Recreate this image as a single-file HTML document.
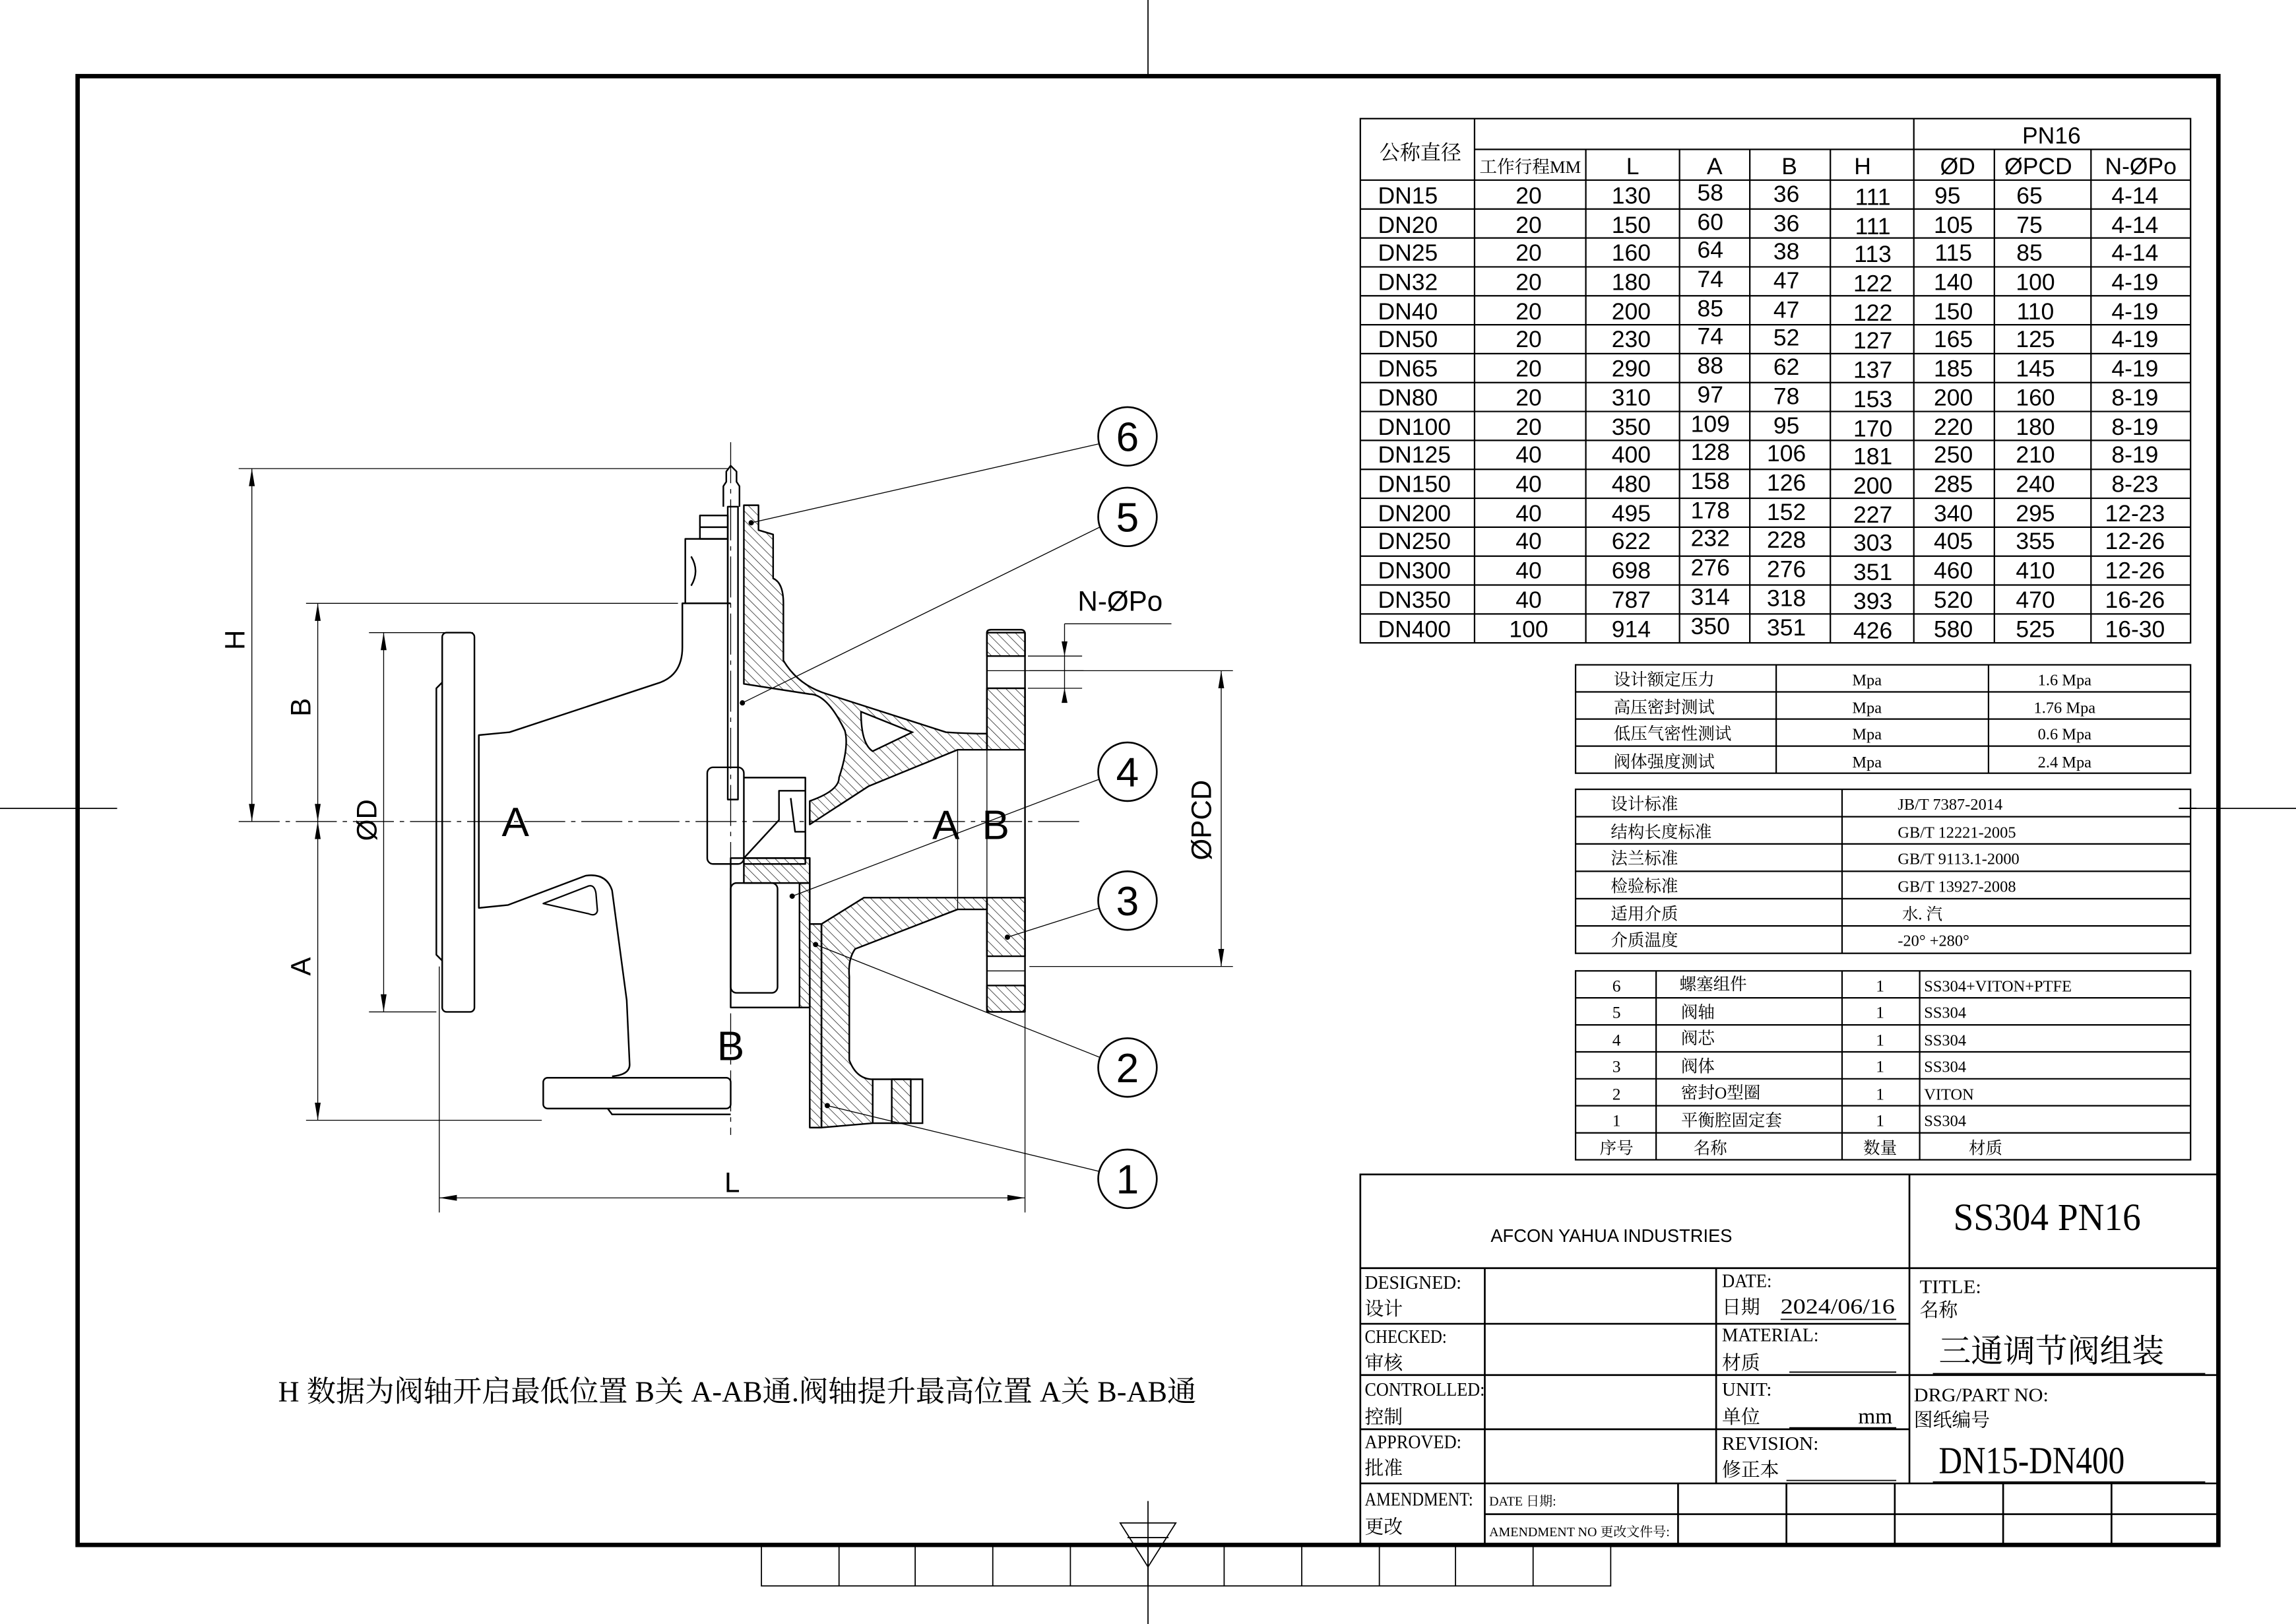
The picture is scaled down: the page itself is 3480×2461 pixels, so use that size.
<!DOCTYPE html>
<html><head><meta charset="utf-8"><style>
html,body{margin:0;padding:0;background:#fff}
svg{display:block}
.s{font-family:"Liberation Sans Narrow","Liberation Sans","Noto Sans CJK SC",sans-serif}
.r{font-family:"Liberation Serif","Noto Serif CJK SC",serif}
.c{font-family:"Liberation Serif","Noto Serif CJK SC","Noto Sans CJK SC",serif}
</style></head><body>
<svg width="3480" height="2461" viewBox="0 0 1568 1109" preserveAspectRatio="none" xmlns="http://www.w3.org/2000/svg">
<defs>
<pattern id="h" patternUnits="userSpaceOnUse" width="4.5" height="4.5" patternTransform="rotate(-45)">
<line x1="0" y1="0" x2="0" y2="4.5" stroke="#000" stroke-width="0.6"/>
</pattern>
</defs>
<rect width="1568" height="1109" fill="#fff"/>
<g stroke="#000" stroke-width="0.8" fill="none">
<line x1="784" y1="0" x2="784" y2="52"/>
<line x1="0" y1="552" x2="80" y2="552"/>
<line x1="1488" y1="552" x2="1568" y2="552"/>
<line x1="784" y1="1025" x2="784" y2="1109"/>
<path d="M765 1040 L803 1040 L784 1070 Z"/>
<line x1="770" y1="1050" x2="798" y2="1050"/>
<rect x="520" y="1055" width="580" height="28"/>
<line x1="573" y1="1055" x2="573" y2="1083"/><line x1="625" y1="1055" x2="625" y2="1083"/>
<line x1="678" y1="1055" x2="678" y2="1083"/><line x1="731" y1="1055" x2="731" y2="1083"/>
<line x1="784" y1="1055" x2="784" y2="1083"/><line x1="836" y1="1055" x2="836" y2="1083"/>
<line x1="889" y1="1055" x2="889" y2="1083"/><line x1="942" y1="1055" x2="942" y2="1083"/>
<line x1="994" y1="1055" x2="994" y2="1083"/><line x1="1047" y1="1055" x2="1047" y2="1083"/>
</g>
<rect x="53" y="52" width="1462" height="1003" fill="none" stroke="#000" stroke-width="3"/>

<g stroke="#000" stroke-width="1" fill="none">
<rect x="929" y="81" width="567" height="358"/>
<line x1="1007" y1="102" x2="1496" y2="102"/>
<line x1="929" y1="123" x2="1496" y2="123"/>
<line x1="929" y1="142.75" x2="1496" y2="142.75"/><line x1="929" y1="162.5" x2="1496" y2="162.5"/>
<line x1="929" y1="182.25" x2="1496" y2="182.25"/><line x1="929" y1="202" x2="1496" y2="202"/>
<line x1="929" y1="221.75" x2="1496" y2="221.75"/><line x1="929" y1="241.5" x2="1496" y2="241.5"/>
<line x1="929" y1="261.25" x2="1496" y2="261.25"/><line x1="929" y1="281" x2="1496" y2="281"/>
<line x1="929" y1="300.75" x2="1496" y2="300.75"/><line x1="929" y1="320.5" x2="1496" y2="320.5"/>
<line x1="929" y1="340.25" x2="1496" y2="340.25"/><line x1="929" y1="360" x2="1496" y2="360"/>
<line x1="929" y1="379.75" x2="1496" y2="379.75"/><line x1="929" y1="399.5" x2="1496" y2="399.5"/>
<line x1="929" y1="419.25" x2="1496" y2="419.25"/>
<line x1="1007" y1="81" x2="1007" y2="439"/>
<line x1="1083" y1="102" x2="1083" y2="439"/>
<line x1="1147" y1="102" x2="1147" y2="439"/>
<line x1="1195" y1="102" x2="1195" y2="439"/>
<line x1="1250" y1="102" x2="1250" y2="439"/>
<line x1="1307" y1="81" x2="1307" y2="439"/>
<line x1="1362" y1="102" x2="1362" y2="439"/>
<line x1="1428" y1="102" x2="1428" y2="439"/>
</g>
<g class="s" font-size="16" fill="#000" text-anchor="middle">
<text x="1401" y="98">PN16</text>
<text x="970" y="109" font-size="14" class="c">公称直径</text>
<text x="1045" y="118" font-size="12" class="c">工作行程MM</text>
<text x="1115" y="119">L</text><text x="1171" y="119">A</text><text x="1222" y="119">B</text><text x="1272" y="119">H</text>
<text x="1337" y="119">ØD</text><text x="1392" y="119">ØPCD</text><text x="1462" y="119">N-ØPo</text>
</g>
<g class="s" font-size="16" fill="#000" text-anchor="middle">
<g text-anchor="start">
<text x="941" y="139">DN15</text><text x="941" y="159">DN20</text><text x="941" y="178">DN25</text><text x="941" y="198">DN32</text>
<text x="941" y="218">DN40</text><text x="941" y="237">DN50</text><text x="941" y="257">DN65</text><text x="941" y="277">DN80</text>
<text x="941" y="297">DN100</text><text x="941" y="316">DN125</text><text x="941" y="336">DN150</text><text x="941" y="356">DN200</text>
<text x="941" y="375">DN250</text><text x="941" y="395">DN300</text><text x="941" y="415">DN350</text><text x="941" y="435">DN400</text>
</g>
<text x="1044" y="139">20</text><text x="1044" y="159">20</text><text x="1044" y="178">20</text><text x="1044" y="198">20</text>
<text x="1044" y="218">20</text><text x="1044" y="237">20</text><text x="1044" y="257">20</text><text x="1044" y="277">20</text>
<text x="1044" y="297">20</text><text x="1044" y="316">40</text><text x="1044" y="336">40</text><text x="1044" y="356">40</text>
<text x="1044" y="375">40</text><text x="1044" y="395">40</text><text x="1044" y="415">40</text><text x="1044" y="435">100</text>

<text x="1114" y="139">130</text><text x="1114" y="159">150</text><text x="1114" y="178">160</text><text x="1114" y="198">180</text>
<text x="1114" y="218">200</text><text x="1114" y="237">230</text><text x="1114" y="257">290</text><text x="1114" y="277">310</text>
<text x="1114" y="297">350</text><text x="1114" y="316">400</text><text x="1114" y="336">480</text><text x="1114" y="356">495</text>
<text x="1114" y="375">622</text><text x="1114" y="395">698</text><text x="1114" y="415">787</text><text x="1114" y="435">914</text>

<text x="1168" y="137">58</text><text x="1168" y="157">60</text><text x="1168" y="176">64</text><text x="1168" y="196">74</text>
<text x="1168" y="216">85</text><text x="1168" y="235">74</text><text x="1168" y="255">88</text><text x="1168" y="275">97</text>
<text x="1168" y="295">109</text><text x="1168" y="314">128</text><text x="1168" y="334">158</text><text x="1168" y="354">178</text>
<text x="1168" y="373">232</text><text x="1168" y="393">276</text><text x="1168" y="413">314</text><text x="1168" y="433">350</text>

<text x="1220" y="138">36</text><text x="1220" y="158">36</text><text x="1220" y="177">38</text><text x="1220" y="197">47</text>
<text x="1220" y="217">47</text><text x="1220" y="236">52</text><text x="1220" y="256">62</text><text x="1220" y="276">78</text>
<text x="1220" y="296">95</text><text x="1220" y="315">106</text><text x="1220" y="335">126</text><text x="1220" y="355">152</text>
<text x="1220" y="374">228</text><text x="1220" y="394">276</text><text x="1220" y="414">318</text><text x="1220" y="434">351</text>

<text x="1279" y="140">111</text><text x="1279" y="160">111</text><text x="1279" y="179">113</text><text x="1279" y="199">122</text>
<text x="1279" y="219">122</text><text x="1279" y="238">127</text><text x="1279" y="258">137</text><text x="1279" y="278">153</text>
<text x="1279" y="298">170</text><text x="1279" y="317">181</text><text x="1279" y="337">200</text><text x="1279" y="357">227</text>
<text x="1279" y="376">303</text><text x="1279" y="396">351</text><text x="1279" y="416">393</text><text x="1279" y="436">426</text>

<text x="1330" y="139">95</text><text x="1334" y="159">105</text><text x="1334" y="178">115</text><text x="1334" y="198">140</text>
<text x="1334" y="218">150</text><text x="1334" y="237">165</text><text x="1334" y="257">185</text><text x="1334" y="277">200</text>
<text x="1334" y="297">220</text><text x="1334" y="316">250</text><text x="1334" y="336">285</text><text x="1334" y="356">340</text>
<text x="1334" y="375">405</text><text x="1334" y="395">460</text><text x="1334" y="415">520</text><text x="1334" y="435">580</text>

<text x="1386" y="139">65</text><text x="1386" y="159">75</text><text x="1386" y="178">85</text><text x="1390" y="198">100</text>
<text x="1390" y="218">110</text><text x="1390" y="237">125</text><text x="1390" y="257">145</text><text x="1390" y="277">160</text>
<text x="1390" y="297">180</text><text x="1390" y="316">210</text><text x="1390" y="336">240</text><text x="1390" y="356">295</text>
<text x="1390" y="375">355</text><text x="1390" y="395">410</text><text x="1390" y="415">470</text><text x="1390" y="435">525</text>

<text x="1458" y="139">4-14</text><text x="1458" y="159">4-14</text><text x="1458" y="178">4-14</text><text x="1458" y="198">4-19</text>
<text x="1458" y="218">4-19</text><text x="1458" y="237">4-19</text><text x="1458" y="257">4-19</text><text x="1458" y="277">8-19</text>
<text x="1458" y="297">8-19</text><text x="1458" y="316">8-19</text><text x="1458" y="336">8-23</text><text x="1458" y="356">12-23</text>
<text x="1458" y="375">12-26</text><text x="1458" y="395">12-26</text><text x="1458" y="415">16-26</text><text x="1458" y="435">16-30</text>
</g>

<g stroke="#000" stroke-width="1" fill="none">
<rect x="1076" y="454" width="420" height="74"/>
<line x1="1076" y1="472.5" x2="1496" y2="472.5"/><line x1="1076" y1="491" x2="1496" y2="491"/><line x1="1076" y1="509.5" x2="1496" y2="509.5"/>
<line x1="1213" y1="454" x2="1213" y2="528"/><line x1="1358" y1="454" x2="1358" y2="528"/>
</g>
<g class="c" font-size="11.5" fill="#000">
<text x="1102" y="468">设计额定压力</text><text x="1102" y="487">高压密封测试</text><text x="1102" y="505">低压气密性测试</text><text x="1102" y="524">阀体强度测试</text>
<g text-anchor="middle" font-size="11"><text x="1275" y="468">Mpa</text><text x="1275" y="487">Mpa</text><text x="1275" y="505">Mpa</text><text x="1275" y="524">Mpa</text>
<text x="1410" y="468">1.6 Mpa</text><text x="1410" y="487">1.76 Mpa</text><text x="1410" y="505">0.6 Mpa</text><text x="1410" y="524">2.4 Mpa</text></g>
</g>

<g stroke="#000" stroke-width="1" fill="none">
<rect x="1076" y="539" width="420" height="112"/>
<line x1="1076" y1="557.7" x2="1496" y2="557.7"/><line x1="1076" y1="576.3" x2="1496" y2="576.3"/><line x1="1076" y1="595" x2="1496" y2="595"/>
<line x1="1076" y1="613.7" x2="1496" y2="613.7"/><line x1="1076" y1="632.3" x2="1496" y2="632.3"/>
<line x1="1258" y1="539" x2="1258" y2="651"/>
<line x1="1488" y1="552" x2="1500" y2="552"/>
</g>
<g class="c" font-size="11.5" fill="#000">
<text x="1100" y="553">设计标准</text><text x="1100" y="572">结构长度标准</text><text x="1100" y="590">法兰标准</text>
<text x="1100" y="609">检验标准</text><text x="1100" y="628">适用介质</text><text x="1100" y="646">介质温度</text>
<g font-size="11"><text x="1296" y="553">JB/T 7387-2014</text><text x="1296" y="572">GB/T 12221-2005</text><text x="1296" y="590">GB/T 9113.1-2000</text>
<text x="1296" y="609">GB/T 13927-2008</text><text x="1299" y="628">水. 汽</text><text x="1296" y="646">-20° +280°</text></g>
</g>

<g stroke="#000" stroke-width="1" fill="none">
<rect x="1076" y="663" width="420" height="129"/>
<line x1="1076" y1="681.4" x2="1496" y2="681.4"/><line x1="1076" y1="699.9" x2="1496" y2="699.9"/>
<line x1="1076" y1="718.3" x2="1496" y2="718.3"/><line x1="1076" y1="736.7" x2="1496" y2="736.7"/>
<line x1="1076" y1="755.1" x2="1496" y2="755.1"/><line x1="1076" y1="773.6" x2="1496" y2="773.6"/>
<line x1="1131" y1="663" x2="1131" y2="792"/><line x1="1258" y1="663" x2="1258" y2="792"/><line x1="1311" y1="663" x2="1311" y2="792"/>
</g>
<g class="c" font-size="11.5" fill="#000">
<g text-anchor="middle"><text x="1104" y="677">6</text><text x="1104" y="695">5</text><text x="1104" y="714">4</text><text x="1104" y="732">3</text>
<text x="1104" y="751">2</text><text x="1104" y="769">1</text><text x="1104" y="788">序号</text>
<text x="1284" y="677">1</text><text x="1284" y="695">1</text><text x="1284" y="714">1</text><text x="1284" y="732">1</text>
<text x="1284" y="751">1</text><text x="1284" y="769">1</text><text x="1284" y="788">数量</text>
<text x="1168" y="788">名称</text><text x="1356" y="788">材质</text></g>
<text x="1147" y="676">螺塞组件</text><text x="1148" y="695">阀轴</text><text x="1148" y="713">阀芯</text><text x="1148" y="732">阀体</text>
<text x="1148" y="750">密封O型圈</text><text x="1148" y="769">平衡腔固定套</text>
<g font-size="11"><text x="1314" y="677">SS304+VITON+PTFE</text><text x="1314" y="695">SS304</text><text x="1314" y="714">SS304</text>
<text x="1314" y="732">SS304</text><text x="1314" y="751">VITON</text><text x="1314" y="769">SS304</text></g>
</g>

<g stroke="#000" stroke-width="1.2" fill="none">
<rect x="929" y="802" width="586" height="253"/>
<line x1="1304" y1="802" x2="1304" y2="1013"/>
<line x1="929" y1="866" x2="1515" y2="866"/>
<line x1="929" y1="904" x2="1304" y2="904"/>
<line x1="929" y1="939" x2="1515" y2="939"/>
<line x1="929" y1="976" x2="1304" y2="976"/>
<line x1="929" y1="1013" x2="1515" y2="1013"/>
<line x1="1014" y1="866" x2="1014" y2="1055"/>
<line x1="1172" y1="866" x2="1172" y2="1013"/>
<line x1="1014" y1="1034" x2="1515" y2="1034"/>
<line x1="1146" y1="1013" x2="1146" y2="1055"/><line x1="1220" y1="1013" x2="1220" y2="1055"/>
<line x1="1294" y1="1013" x2="1294" y2="1055"/><line x1="1368" y1="1013" x2="1368" y2="1055"/>
<line x1="1442" y1="1013" x2="1442" y2="1055"/>
<line x1="1216" y1="901" x2="1295" y2="901" stroke-width="0.8"/>
<line x1="1222" y1="937" x2="1295" y2="937" stroke-width="0.8"/>
<line x1="1222" y1="975" x2="1295" y2="975" stroke-width="0.8"/>
<line x1="1220" y1="1011" x2="1295" y2="1011" stroke-width="0.8"/>
<line x1="1320" y1="938" x2="1506" y2="938" stroke-width="0.8"/>
<line x1="1320" y1="1012" x2="1506" y2="1012" stroke-width="0.8"/>
</g>
<g fill="#000">
<text x="1018" y="848" class="s" font-size="12.5" textLength="165" lengthAdjust="spacingAndGlyphs">AFCON YAHUA INDUSTRIES</text>
<text x="1334" y="840" class="r" font-size="26" textLength="128" lengthAdjust="spacingAndGlyphs">SS304 PN16</text>
<g class="c" font-size="13">
<text x="932" y="880" textLength="66" lengthAdjust="spacingAndGlyphs">DESIGNED:</text><text x="932" y="898">设计</text>
<text x="932" y="917" textLength="56" lengthAdjust="spacingAndGlyphs">CHECKED:</text><text x="932" y="935">审核</text>
<text x="932" y="953" textLength="82" lengthAdjust="spacingAndGlyphs">CONTROLLED:</text><text x="932" y="972">控制</text>
<text x="932" y="989" textLength="66" lengthAdjust="spacingAndGlyphs">APPROVED:</text><text x="932" y="1007">批准</text>
<text x="932" y="1028" textLength="74" lengthAdjust="spacingAndGlyphs">AMENDMENT:</text><text x="932" y="1047">更改</text>
<text x="1176" y="879" textLength="34" lengthAdjust="spacingAndGlyphs">DATE:</text><text x="1176" y="897">日期</text>
<text x="1216" y="897" font-size="15" textLength="78" lengthAdjust="spacingAndGlyphs">2024/06/16</text>
<text x="1176" y="916" textLength="66" lengthAdjust="spacingAndGlyphs">MATERIAL:</text><text x="1176" y="935">材质</text>
<text x="1176" y="953" textLength="34" lengthAdjust="spacingAndGlyphs">UNIT:</text><text x="1176" y="972">单位</text>
<text x="1269" y="972" font-size="15">mm</text>
<text x="1176" y="990" textLength="66" lengthAdjust="spacingAndGlyphs">REVISION:</text><text x="1176" y="1008">修正本</text>
<text x="1311" y="883" textLength="42" lengthAdjust="spacingAndGlyphs">TITLE:</text><text x="1311" y="899">名称</text>
<text x="1307" y="957" textLength="92" lengthAdjust="spacingAndGlyphs">DRG/PART NO:</text><text x="1307" y="974">图纸编号</text>
<text x="1017" y="1028" font-size="9">DATE 日期:</text>
<text x="1017" y="1049" font-size="9">AMENDMENT NO 更改文件号:</text>
</g>
<text x="1324" y="930" class="c" font-size="22">三通调节阀组装</text>
<text x="1324" y="1006" class="r" font-size="26" textLength="127" lengthAdjust="spacingAndGlyphs">DN15-DN400</text>
</g>

<text x="190" y="957" class="c" font-size="20" fill="#000" textLength="627" lengthAdjust="spacingAndGlyphs">H 数据为阀轴开启最低位置 B关 A-AB通.阀轴提升最高位置 A关 B-AB通</text>

<g stroke="#000" stroke-width="1.1" fill="none" stroke-linejoin="round">
<rect x="302" y="432" width="22" height="259" rx="3"/>
<path d="M302 466 L298 470 L298 652 L302 656"/>
<path d="M499 412 L466 412 L466 442 Q466 462 448 467 L348 500 L327 502 L327 620 L347 618 L400 598 Q414 596 418 608 L428 683 L430 727 Q430 734 418 735"/>
<line x1="327" y1="502" x2="327" y2="620"/>
<path d="M371 617 L402 605 Q406 604 407 610 L408 622 Q407 626 402 624 Z" stroke-width="1"/>
<rect x="371" y="736" width="128" height="21" rx="3"/>
<path d="M415 757 L418 761 L499 761"/>
<rect x="497" y="346" width="7" height="200"/>
<path d="M494 346 L494 332 L496 329 L496 322 L499 318 L503 322 L503 329 L505 332 L505 346"/>
<rect x="478" y="352" width="19" height="16"/>
<line x1="478" y1="360" x2="497" y2="360"/>
<rect x="468" y="368" width="29" height="44"/>
<path d="M472 380 Q478 390 472 400"/>
<rect x="483" y="524" width="25" height="66" rx="4"/>
<path d="M508 531 L550 531 L550 590 L508 590"/>
<path d="M508 586 L532 560 L532 540 L550 540"/>
<path d="M540 545 L543 568 L550 568"/>
<rect x="499" y="603" width="32" height="75" rx="4"/>
<rect x="499" y="586" width="54" height="102"/>
<!-- right flange outline -->
<path d="M674 512 L674 432 Q674 430 677 430 L697 430 Q700 430 700 433 L700 688 Q700 691 697 691 L677 691 Q674 691 674 688 L674 613"/>
<line x1="674" y1="512" x2="674" y2="613" stroke-width="0.6"/>
<line x1="654" y1="512" x2="654" y2="621" stroke-width="0.6"/>
</g>
<g stroke="#000" stroke-width="1.1" fill="url(#h)" stroke-linejoin="round">
<path d="M508 345 L518 345 L518 362 L528 365 L528 395 Q535 398 535 412 L535 451 Q545 468 565 474 L646 500 Q660 501 674 501 L674 512 L654 512 L593 537 Q570 552 553 563 L553 547 Q573 540 573 531 Q580 510 577 499 Q565 474 553 474 L508 467 Z"/>
<path d="M674 432 L700 432 L700 448 L674 448 Z"/>
<path d="M674 470 L700 470 L700 512 L674 512 Z"/>
<path d="M674 613 L700 613 L700 653 L674 653 Z"/>
<path d="M674 673 L700 673 L700 691 L674 691 Z"/>
<path d="M561 631 L590 613 L674 613 L674 621 L654 621 L584 648 Q579 655 580 667 L580 724 Q585 737 596 737 L596 767 L561 770 Z"/>
<path d="M609 737 L622 737 L622 767 L609 767 Z"/>
<path d="M553 631 L561 631 L561 770 L553 770 Z"/>
<path d="M508 586 L553 586 L553 603 L508 603 Z"/>
<path d="M546 603 L553 603 L553 688 L546 688 Z"/>
</g>
<g stroke="#000" stroke-width="1.1" fill="none">
<path d="M596 737 L630 737 L630 767 L596 767"/>
</g>
<g stroke="#000" stroke-width="1.1" fill="#fff">
<path d="M588 486 L623 500 L596 513 Q588 508 588 486 Z"/>
</g>
<g stroke="#000" stroke-width="0.6" fill="none">
<line x1="674" y1="458" x2="740" y2="458"/>
<line x1="674" y1="663" x2="700" y2="663"/>
</g>

<g stroke="#000" stroke-width="0.6" fill="none" stroke-dasharray="28 4 3 4">
<line x1="163" y1="561" x2="740" y2="561"/>
<line x1="499" y1="302" x2="499" y2="775"/>
</g>

<g stroke="#000" stroke-width="0.6" fill="none">
<line x1="163" y1="320" x2="498" y2="320"/>
<line x1="172" y1="320" x2="172" y2="561"/>
<line x1="209" y1="412" x2="463" y2="412"/>
<line x1="217" y1="412" x2="217" y2="765"/>
<line x1="209" y1="765" x2="370" y2="765"/>
<line x1="252" y1="432" x2="323" y2="432"/>
<line x1="252" y1="691" x2="298" y2="691"/>
<line x1="262" y1="432" x2="262" y2="691"/>
<line x1="300" y1="660" x2="300" y2="828"/>
<line x1="700" y1="660" x2="700" y2="828"/>
<line x1="300" y1="818" x2="700" y2="818"/>
<line x1="703" y1="458" x2="842" y2="458"/>
<line x1="703" y1="660" x2="842" y2="660"/>
<line x1="834" y1="458" x2="834" y2="660"/>
<line x1="727" y1="426" x2="800" y2="426"/>
<line x1="727" y1="426" x2="727" y2="478"/>
<line x1="702" y1="448" x2="739" y2="448"/>
<line x1="702" y1="470" x2="739" y2="470"/>
<line x1="751" y1="303" x2="513" y2="357"/>
<line x1="751" y1="360" x2="507" y2="480"/>
<line x1="751" y1="532" x2="541" y2="612"/>
<line x1="751" y1="620" x2="688" y2="640"/>
<line x1="751" y1="722" x2="557" y2="645"/>
<line x1="751" y1="800" x2="565" y2="755"/>
</g>
<g fill="#000">
<path d="M172 320 L170 332 L174 332 Z"/><path d="M172 561 L170 549 L174 549 Z"/>
<path d="M217 412 L215 424 L219 424 Z"/><path d="M217 561 L215 549 L219 549 Z"/>
<path d="M217 561 L215 573 L219 573 Z"/><path d="M217 765 L215 753 L219 753 Z"/>
<path d="M262 432 L260 444 L264 444 Z"/><path d="M262 691 L260 679 L264 679 Z"/>
<path d="M300 818 L312 816 L312 820 Z"/><path d="M700 818 L688 816 L688 820 Z"/>
<path d="M834 458 L832 470 L836 470 Z"/><path d="M834 660 L832 648 L836 648 Z"/>
<path d="M727 448 L725 438 L729 438 Z"/><path d="M727 470 L725 480 L729 480 Z"/>
<circle cx="513" cy="357" r="1.8"/><circle cx="507" cy="480" r="1.8"/><circle cx="541" cy="612" r="1.8"/>
<circle cx="688" cy="640" r="1.8"/><circle cx="557" cy="645" r="1.8"/><circle cx="565" cy="755" r="1.8"/>
</g>
<g stroke="#000" stroke-width="1.2" fill="#fff">
<circle cx="770" cy="298" r="20"/><circle cx="770" cy="353" r="20"/><circle cx="770" cy="527" r="20"/>
<circle cx="770" cy="615" r="20"/><circle cx="770" cy="729" r="20"/><circle cx="770" cy="805" r="20"/>
</g>
<g class="s" font-size="28" fill="#000" text-anchor="middle">
<text x="770" y="308">6</text><text x="770" y="363">5</text><text x="770" y="537">4</text>
<text x="770" y="625">3</text><text x="770" y="739">2</text><text x="770" y="815">1</text>
<text x="352" y="571">A</text><text x="646" y="573">A</text><text x="680" y="573">B</text><text x="499" y="724">B</text>
</g>
<g class="s" font-size="19" fill="#000" text-anchor="middle">
<text x="500" y="814">L</text>
<text x="765" y="417">N-ØPo</text>
<text transform="translate(167,437) rotate(-90)">H</text>
<text transform="translate(212,483) rotate(-90)">B</text>
<text transform="translate(212,660) rotate(-90)">A</text>
<text transform="translate(257,560) rotate(-90)">ØD</text>
<text transform="translate(827,560) rotate(-90)">ØPCD</text>
</g>
</svg>
</body></html>
